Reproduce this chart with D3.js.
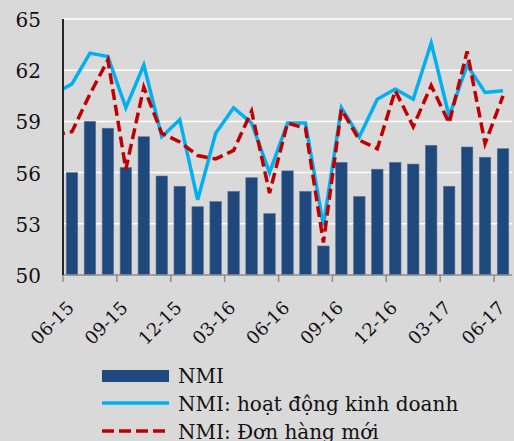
<!DOCTYPE html>
<html>
<head>
<meta charset="utf-8">
<script src="https://cdn.jsdelivr.net/npm/d3@7"></script>
<style>
body { margin: 0; background: #d9d9d9; }
text { font-family: "DejaVu Serif", "Liberation Serif", serif; fill: #111; }
</style>
</head>
<body>
<div id="chart"></div>
<script>
const months = ["06-15","07-15","08-15","09-15","10-15","11-15","12-15","01-16","02-16","03-16","04-16","05-16","06-16",
  "07-16","08-16","09-16","10-16","11-16","12-16","01-17","02-17","03-17","04-17","05-17","06-17"];
const nmi = [56.0,59.0,58.6,56.3,58.1,55.8,55.2,54.0,54.3,54.9,55.7,53.6,56.1,
  54.9,51.7,56.6,54.6,56.2,56.6,56.5,57.6,55.2,57.5,56.9,57.4];
const hoatDong = [61.2,63.0,62.8,59.8,62.3,58.1,59.1,54.4,58.3,59.8,58.9,56.0,58.9,
  58.9,52.9,59.8,58.1,60.3,60.9,60.3,63.6,59.3,62.3,60.7,60.8];
const donHang = [58.4,60.6,62.6,56.2,61.0,58.3,57.8,57.0,56.8,57.3,59.6,54.8,58.9,
  58.6,51.9,59.7,57.9,57.4,60.8,58.7,61.1,58.9,63.1,57.7,60.5];
// values for 05-15, drawn only as the clipped line piece at the left edge
const prevHoatDong = 60.6, prevDonHang = 58.2;
const yTicks = [50,53,56,59,62,65];
const tickMonths = ["06-15","09-15","12-15","03-16","06-16","09-16","12-16","03-17","06-17"];

const width = 514, height = 441,
margin = { top: 19, right: 2, bottom: 166, left: 63 };

const svg = d3.select("#chart").append("svg")
  .attr("width", width)
  .attr("height", height)
  .style("background-color", "#d9d9d9");

const x = d3.scaleBand()
  .domain(months)
  .range([margin.left, width - margin.right])
  .paddingInner(0.36)
  .paddingOuter(0.18);

const step = x.step();
const cx = i => x(months[i]) + x.bandwidth() / 2;

const y = d3.scaleLinear()
  .domain([50, 65])
  .range([height - margin.bottom, margin.top]);

// gridlines
svg.append("g")
  .selectAll("line")
  .data(yTicks.slice(1))
  .join("line")
  .attr("x1", margin.left)
  .attr("x2", width - margin.right)
  .attr("y1", d => y(d))
  .attr("y2", d => y(d))
  .attr("stroke", "#ffffff")
  .attr("stroke-width", 1.5);

// y axis labels
svg.append("g")
  .selectAll("text")
  .data(yTicks)
  .join("text")
  .attr("x", 41)
  .attr("y", d => y(d) + 8)
  .attr("text-anchor", "end")
  .style("font-size", "20px")
  .text(d => d);

// bars
svg.append("g")
  .selectAll("rect")
  .data(nmi)
  .join("rect")
  .attr("x", (d, i) => x(months[i]))
  .attr("y", d => y(d))
  .attr("width", x.bandwidth())
  .attr("height", d => y(50) - y(d))
  .attr("fill", "#1f487c")
  .attr("stroke", "#5b7399")
  .attr("stroke-width", 0.6);

// lines, clipped at the plot area
svg.append("clipPath").attr("id", "plotclip")
  .append("rect")
  .attr("x", margin.left)
  .attr("y", 0)
  .attr("width", width - margin.left)
  .attr("height", height - margin.bottom);

const line = d3.line()
  .x(d => d[0])
  .y(d => y(d[1]));

const withPrev = (prev, arr) => [[cx(0) - step, prev]].concat(arr.map((v, i) => [cx(i), v]));

const lines = svg.append("g").attr("clip-path", "url(#plotclip)");

lines.append("path")
  .datum(withPrev(prevHoatDong, hoatDong))
  .attr("d", line)
  .attr("fill", "none")
  .attr("stroke", "#00b0f0")
  .attr("stroke-width", 3.5);

lines.append("path")
  .datum(withPrev(prevDonHang, donHang))
  .attr("d", line)
  .attr("fill", "none")
  .attr("stroke", "#c00000")
  .attr("stroke-width", 3.5)
  .attr("stroke-dasharray", "11,5");

// x axis
const baseY = y(50);
svg.append("line")
  .attr("x1", margin.left).attr("x2", width - margin.right)
  .attr("y1", baseY).attr("y2", baseY)
  .attr("stroke", "#8c8c8c").attr("stroke-width", 1.5);

const tickPos = tickMonths.map(m => margin.left + months.indexOf(m) * step);

svg.append("g")
  .selectAll("line")
  .data(tickPos)
  .join("line")
  .attr("x1", d => d).attr("x2", d => d)
  .attr("y1", baseY).attr("y2", baseY + 7)
  .attr("stroke", "#8c8c8c").attr("stroke-width", 1.5);

svg.append("g")
  .selectAll("text")
  .data(tickMonths)
  .join("text")
  .attr("text-anchor", "end")
  .attr("transform", (d, i) => `translate(${tickPos[i] + 12},${baseY + 34}) rotate(-45)`)
  .style("font-size", "18px")
  .text(d => d);

// y axis line
svg.append("line")
  .attr("x1", margin.left).attr("x2", margin.left)
  .attr("y1", margin.top).attr("y2", baseY)
  .attr("stroke", "#262626").attr("stroke-width", 2);

// legend
const legend = svg.append("g");
legend.append("rect")
  .attr("x", 102).attr("y", 370)
  .attr("width", 67).attr("height", 12)
  .attr("fill", "#1f487c");
legend.append("line")
  .attr("x1", 102).attr("x2", 169).attr("y1", 403).attr("y2", 403)
  .attr("stroke", "#00b0f0").attr("stroke-width", 3.5);
legend.append("line")
  .attr("x1", 102).attr("x2", 169).attr("y1", 431).attr("y2", 431)
  .attr("stroke", "#c00000").attr("stroke-width", 3.5)
  .attr("stroke-dasharray", "12,5");

const legendLabels = ["NMI", "NMI: hoạt động kinh doanh", "NMI: Đơn hàng mới"];
legend.selectAll("text")
  .data(legendLabels)
  .join("text")
  .attr("x", 178)
  .attr("y", (d, i) => 383 + i * 28)
  .style("font-size", "20px")
  .text(d => d);
</script>
</body>
</html>
